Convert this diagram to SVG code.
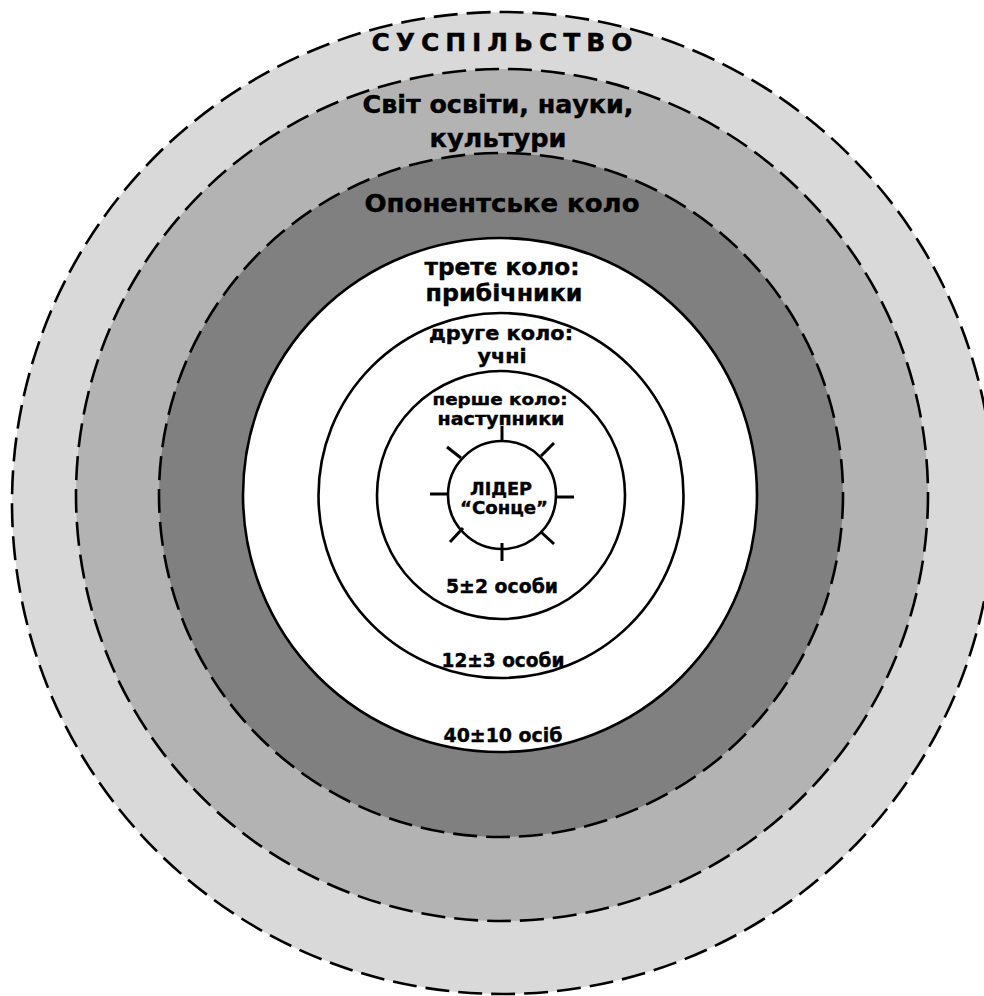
<svg xmlns="http://www.w3.org/2000/svg" width="984" height="996" viewBox="0 0 984 996">
<style>
.dash{stroke:#000;stroke-width:2.6;stroke-dasharray:24 9}
.solid{stroke:#000;stroke-width:2.6;fill:#fff}
.t{font-family:"DejaVu Sans","Liberation Sans",sans-serif;font-weight:bold;fill:#000;stroke:#000;stroke-width:0.4;text-anchor:middle}
.ray{stroke:#000;stroke-width:3;stroke-linecap:butt}
</style>
<rect width="984" height="996" fill="#fff"/>
<g id="society">
<circle cx="503" cy="503" r="491" fill="#d9d9d9" class="dash"/>
<text class="t" x="502" y="51" font-size="25" textLength="261" lengthAdjust="spacing">СУСПІЛЬСТВО</text>
</g>
<g id="education">
<circle cx="502" cy="495" r="426" fill="#b3b3b3" class="dash"/>
<text class="t" x="498" y="113" font-size="24" textLength="271" lengthAdjust="spacingAndGlyphs">Світ освіти, науки,</text>
<text class="t" x="498" y="147" font-size="24" textLength="137" lengthAdjust="spacingAndGlyphs">культури</text>
</g>
<g id="opponents">
<circle cx="501" cy="495" r="342" fill="#808080" class="dash"/>
<text class="t" x="502" y="212" font-size="24" textLength="275" lengthAdjust="spacingAndGlyphs">Опонентське коло</text>
</g>
<g id="third-circle">
<circle cx="500" cy="495" r="257" class="solid"/>
<text class="t" x="502" y="275" font-size="23" textLength="155" lengthAdjust="spacingAndGlyphs">третє коло:</text>
<text class="t" x="504" y="301" font-size="23" textLength="157" lengthAdjust="spacingAndGlyphs">прибічники</text>
<text class="t" x="503" y="742" font-size="19" textLength="119" lengthAdjust="spacingAndGlyphs">40±10 осіб</text>
</g>
<g id="second-circle">
<circle cx="501" cy="495.5" r="182.5" class="solid"/>
<text class="t" x="501" y="340" font-size="19" textLength="144" lengthAdjust="spacingAndGlyphs">друге коло:</text>
<text class="t" x="502" y="363" font-size="19" textLength="49" lengthAdjust="spacingAndGlyphs">учні</text>
<text class="t" x="503" y="667" font-size="19" textLength="123" lengthAdjust="spacingAndGlyphs">12±3 особи</text>
</g>
<g id="first-circle">
<circle cx="501" cy="495" r="124" class="solid"/>
<text class="t" x="500" y="405" font-size="16" textLength="135" lengthAdjust="spacingAndGlyphs">перше коло:</text>
<text class="t" x="501" y="425" font-size="17" textLength="127" lengthAdjust="spacingAndGlyphs">наступники</text>
<text class="t" x="502" y="593" font-size="19" textLength="112" lengthAdjust="spacingAndGlyphs">5±2 особи</text>
</g>
<g id="leader">
<circle cx="502" cy="495" r="54" class="solid"/>
<g id="rays">
<line class="ray" x1="502" y1="426" x2="502" y2="442"/>
<line class="ray" x1="502" y1="543" x2="502" y2="561"/>
<line class="ray" x1="430" y1="494" x2="448" y2="494"/>
<line class="ray" x1="556" y1="497" x2="574" y2="497"/>
<line class="ray" x1="447" y1="447" x2="461" y2="458"/>
<line class="ray" x1="554" y1="443" x2="541" y2="456"/>
<line class="ray" x1="450" y1="542" x2="463" y2="528"/>
<line class="ray" x1="554" y1="544" x2="541" y2="532"/>
</g>
<text class="t" x="501" y="495" font-size="18" textLength="62" lengthAdjust="spacingAndGlyphs">ЛІДЕР</text>
<text class="t" x="504" y="514" font-size="18" textLength="88" lengthAdjust="spacingAndGlyphs">“Сонце”</text>
</g>
</svg>
